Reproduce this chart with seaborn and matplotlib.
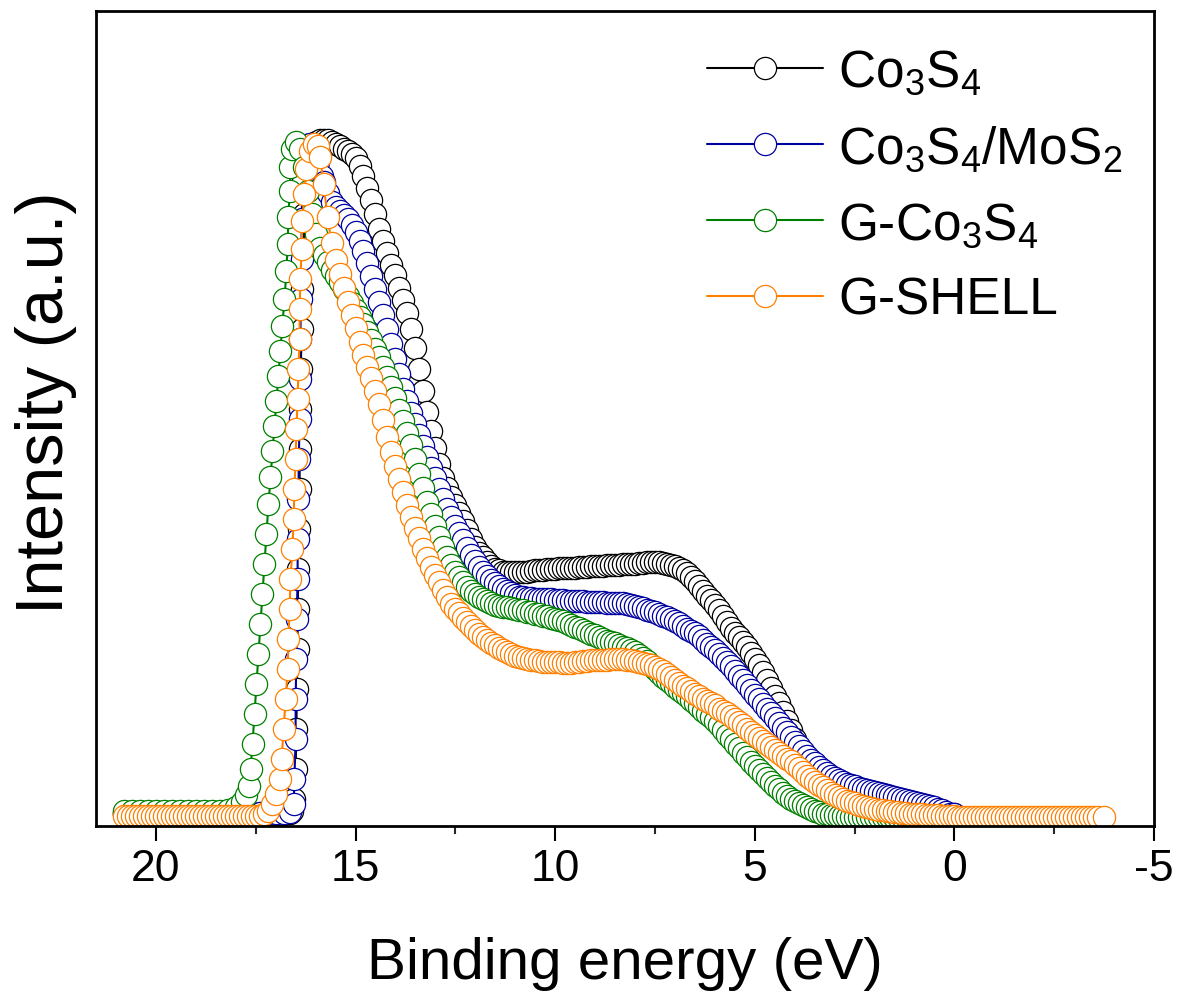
import matplotlib
matplotlib.use("Agg")
import matplotlib.pyplot as plt
from matplotlib.ticker import MultipleLocator
import pandas as pd
import seaborn as sns

sns.set_theme(style="ticks")
plt.rcParams["font.family"] = ["Liberation Sans", "DejaVu Sans"]
plt.rcParams["mathtext.fontset"] = "custom"
plt.rcParams["mathtext.rm"] = "Liberation Sans"
plt.rcParams["mathtext.it"] = "Liberation Sans:italic"
plt.rcParams["mathtext.bf"] = "Liberation Sans:bold"
plt.rcParams["axes.unicode_minus"] = False

# ---------------- data (binding energy in eV, normalised intensity) ----------------
labels = ["Co$_3$S$_4$", "Co$_3$S$_4$/MoS$_2$", "G-Co$_3$S$_4$", "G-SHELL"]
colors = ["#000000", "#0000A0", "#008000", "#FF8000"]

base_energy = [20.8, 20.6, 20.4, 20.2, 20.0, 19.8, 19.6, 19.4, 19.2, 19.0, 18.8,
               18.6, 18.4, 18.2, 18.0, 17.8, 17.6, 17.4, 17.2, 17.0, 16.8]

grid_energy = [15.8, 15.7, 15.6, 15.5, 15.4, 15.3, 15.2, 15.1, 15.0, 14.9,
               14.8, 14.7, 14.6, 14.5, 14.4, 14.3, 14.2, 14.1, 14.0, 13.9,
               13.8, 13.7, 13.6, 13.5, 13.4, 13.3, 13.2, 13.1, 13.0, 12.9,
               12.8, 12.7, 12.6, 12.5, 12.4, 12.3, 12.2, 12.1, 12.0, 11.9,
               11.8, 11.7, 11.6, 11.5, 11.4, 11.3, 11.2, 11.1, 11.0, 10.9,
               10.8, 10.7, 10.6, 10.5, 10.4, 10.3, 10.2, 10.1, 10.0, 9.9,
               9.8, 9.7, 9.6, 9.5, 9.4, 9.3, 9.2, 9.1, 9.0, 8.9,
               8.8, 8.7, 8.6, 8.5, 8.4, 8.3, 8.2, 8.1, 8.0, 7.9,
               7.8, 7.7, 7.6, 7.5, 7.4, 7.3, 7.2, 7.1, 7.0, 6.9,
               6.8, 6.7, 6.6, 6.5, 6.4, 6.3, 6.2, 6.1, 6.0, 5.9,
               5.8, 5.7, 5.6, 5.5, 5.4, 5.3, 5.2, 5.1, 5.0, 4.9,
               4.8, 4.7, 4.6, 4.5, 4.4, 4.3, 4.2, 4.1, 4.0, 3.9,
               3.8, 3.7, 3.6, 3.5, 3.4, 3.3, 3.2, 3.1, 3.0, 2.9,
               2.8, 2.7, 2.6, 2.5, 2.4, 2.3, 2.2, 2.1, 2.0, 1.9,
               1.8, 1.7, 1.6, 1.5, 1.4, 1.3, 1.2, 1.1, 1.0, 0.9,
               0.8, 0.7, 0.6, 0.5, 0.4, 0.3, 0.2, 0.1, 0.0]

# Co3S4
co3s4_base = [0.004, 0.004, 0.004, 0.004, 0.004, 0.004, 0.004, 0.004, 0.004, 0.004, 0.004,
              0.004, 0.004, 0.004, 0.004, 0.004, 0.004, 0.004, 0.004, 0.004, 0.004]
co3s4_edge_energy = [16.65, 16.58, 16.53, 16.5, 16.48, 16.47, 16.45, 16.45, 16.43, 16.42,
                     16.4, 16.4, 16.38, 16.37, 16.35, 16.33, 16.3, 16.28, 16.23, 16.18,
                     16.1, 16.0, 15.9]
co3s4_edge = [0.006, 0.009, 0.027, 0.071, 0.130, 0.189, 0.248, 0.307, 0.366, 0.425,
              0.484, 0.543, 0.602, 0.661, 0.720, 0.779, 0.838, 0.889, 0.934, 0.971,
              0.988, 0.996, 0.998]
co3s4_grid = [0.999, 0.998, 0.996, 0.993, 0.990, 0.986, 0.982, 0.978, 0.972, 0.960,
              0.945, 0.928, 0.910, 0.889, 0.867, 0.849, 0.832, 0.815, 0.799, 0.781,
              0.763, 0.743, 0.720, 0.692, 0.661, 0.628, 0.597, 0.569, 0.544, 0.521,
              0.500, 0.485, 0.472, 0.460, 0.448, 0.436, 0.423, 0.410, 0.398, 0.390,
              0.383, 0.376, 0.370, 0.366, 0.364, 0.362, 0.361, 0.361, 0.361, 0.361,
              0.361, 0.362, 0.363, 0.364, 0.364, 0.365, 0.366, 0.366, 0.366, 0.367,
              0.367, 0.367, 0.367, 0.368, 0.369, 0.369, 0.369, 0.370, 0.370, 0.370,
              0.370, 0.371, 0.372, 0.372, 0.372, 0.373, 0.373, 0.373, 0.373, 0.374,
              0.375, 0.376, 0.376, 0.376, 0.376, 0.375, 0.373, 0.372, 0.370, 0.367,
              0.364, 0.360, 0.354, 0.348, 0.341, 0.334, 0.326, 0.320, 0.313, 0.305,
              0.296, 0.288, 0.279, 0.272, 0.265, 0.258, 0.251, 0.242, 0.233, 0.224,
              0.214, 0.202, 0.190, 0.179, 0.168, 0.155, 0.142, 0.128, 0.115, 0.102,
              0.090, 0.079, 0.069, 0.062, 0.055, 0.049, 0.043, 0.039, 0.035, 0.032,
              0.029, 0.028, 0.027, 0.025, 0.024, 0.022, 0.021, 0.019, 0.018, 0.016,
              0.015, 0.014, 0.013, 0.012, 0.012, 0.011, 0.010, 0.009, 0.009, 0.008,
              0.007, 0.006, 0.006, 0.006, 0.006, 0.005, 0.004, 0.004, 0.004]

# Co3S4/MoS2
mos2_base = [0.006, 0.006, 0.006, 0.006, 0.006, 0.006, 0.006, 0.006, 0.006, 0.006, 0.006,
             0.006, 0.006, 0.006, 0.006, 0.006, 0.006, 0.006, 0.006, 0.006, 0.006]
mos2_edge_energy = [16.65, 16.55, 16.53, 16.5, 16.5, 16.48, 16.47, 16.45, 16.45, 16.43,
                    16.42, 16.4, 16.4, 16.38, 16.37, 16.35, 16.35, 16.33, 16.3, 16.25,
                    16.15, 16.05, 15.95, 15.85]
mos2_edge = [0.007, 0.019, 0.056, 0.115, 0.174, 0.233, 0.292, 0.351, 0.410, 0.469,
             0.528, 0.587, 0.646, 0.705, 0.764, 0.823, 0.882, 0.934, 0.971, 0.991,
             0.993, 0.982, 0.966, 0.945]
mos2_grid = [0.937, 0.921, 0.907, 0.900, 0.894, 0.888, 0.882, 0.873, 0.863, 0.850,
             0.835, 0.817, 0.798, 0.779, 0.760, 0.740, 0.720, 0.698, 0.676, 0.653,
             0.631, 0.613, 0.596, 0.579, 0.563, 0.547, 0.531, 0.515, 0.500, 0.484,
             0.469, 0.455, 0.442, 0.430, 0.419, 0.408, 0.397, 0.387, 0.378, 0.369,
             0.361, 0.355, 0.350, 0.345, 0.341, 0.337, 0.333, 0.330, 0.327, 0.325,
             0.324, 0.323, 0.323, 0.322, 0.322, 0.322, 0.322, 0.321, 0.320, 0.320,
             0.320, 0.319, 0.319, 0.319, 0.319, 0.318, 0.317, 0.317, 0.317, 0.317,
             0.317, 0.316, 0.316, 0.316, 0.316, 0.315, 0.314, 0.312, 0.311, 0.310,
             0.308, 0.306, 0.304, 0.302, 0.299, 0.297, 0.295, 0.292, 0.289, 0.286,
             0.282, 0.278, 0.274, 0.271, 0.267, 0.261, 0.255, 0.251, 0.246, 0.241,
             0.235, 0.229, 0.223, 0.216, 0.208, 0.202, 0.195, 0.188, 0.180, 0.174,
             0.167, 0.160, 0.153, 0.146, 0.139, 0.132, 0.125, 0.118, 0.111, 0.104,
             0.097, 0.090, 0.084, 0.079, 0.074, 0.069, 0.065, 0.061, 0.058, 0.055,
             0.052, 0.049, 0.047, 0.045, 0.043, 0.041, 0.040, 0.038, 0.037, 0.035,
             0.034, 0.032, 0.031, 0.029, 0.028, 0.026, 0.025, 0.023, 0.022, 0.020,
             0.019, 0.017, 0.016, 0.014, 0.012, 0.010, 0.007, 0.005, 0.004]

# G-Co3S4
gco_base_energy = [20.8, 20.6, 20.4, 20.2, 20.0, 19.8, 19.6, 19.4, 19.2, 19.0, 18.8,
                   18.6, 18.4]
gco_base = [0.009, 0.009, 0.009, 0.009, 0.009, 0.009, 0.009, 0.009, 0.009, 0.009, 0.009,
            0.009, 0.009]
gco_edge_energy = [18.2, 18.0, 17.85, 17.75, 17.68, 17.63, 17.58, 17.53, 17.48, 17.43,
                   17.38, 17.33, 17.28, 17.23, 17.18, 17.13, 17.08, 17.03, 16.98, 16.93,
                   16.88, 16.83, 16.78, 16.73, 16.7, 16.68, 16.65, 16.63, 16.58, 16.5,
                   16.4, 16.3, 16.2, 16.1, 16.0, 15.9]
gco_edge = [0.011, 0.015, 0.022, 0.032, 0.045, 0.071, 0.108, 0.152, 0.196, 0.240,
            0.285, 0.329, 0.373, 0.417, 0.462, 0.501, 0.540, 0.577, 0.614, 0.650,
            0.687, 0.724, 0.764, 0.805, 0.845, 0.885, 0.923, 0.959, 0.985, 0.996,
            0.985, 0.959, 0.923, 0.889, 0.860, 0.840]
gco_grid = [0.829, 0.818, 0.807, 0.798, 0.789, 0.779, 0.768, 0.758, 0.748, 0.738,
            0.727, 0.716, 0.704, 0.691, 0.678, 0.664, 0.649, 0.634, 0.618, 0.601,
            0.584, 0.567, 0.549, 0.528, 0.506, 0.485, 0.465, 0.447, 0.429, 0.413,
            0.398, 0.384, 0.372, 0.362, 0.354, 0.346, 0.339, 0.334, 0.329, 0.325,
            0.322, 0.319, 0.316, 0.313, 0.311, 0.310, 0.310, 0.308, 0.307, 0.306,
            0.305, 0.303, 0.302, 0.300, 0.299, 0.297, 0.296, 0.294, 0.292, 0.290,
            0.289, 0.286, 0.283, 0.281, 0.279, 0.276, 0.273, 0.270, 0.268, 0.265,
            0.263, 0.260, 0.258, 0.256, 0.254, 0.251, 0.249, 0.246, 0.243, 0.239,
            0.235, 0.230, 0.224, 0.218, 0.212, 0.207, 0.202, 0.197, 0.192, 0.187,
            0.183, 0.178, 0.173, 0.168, 0.162, 0.157, 0.152, 0.147, 0.142, 0.135,
            0.128, 0.121, 0.115, 0.108, 0.102, 0.095, 0.088, 0.081, 0.075, 0.069,
            0.063, 0.057, 0.052, 0.046, 0.041, 0.036, 0.031, 0.027, 0.024, 0.021,
            0.018, 0.015, 0.012, 0.009, 0.007, 0.005, 0.004, 0.003, 0.003, 0.002,
            0.001, 0.000, 0.000, 0.000, 0.000, 0.000, 0.000, 0.000, 0.000, 0.000,
            0.000, 0.000, 0.000, 0.000, 0.000, 0.000, 0.000, 0.000, 0.000, 0.000,
            0.000, 0.000, 0.000, 0.000, 0.000, 0.000, 0.000, 0.000, 0.000]

# G-SHELL
shell_base_energy = [20.8, 20.7, 20.6, 20.5, 20.4, 20.3, 20.2, 20.1, 20.0, 19.9,
                     19.8, 19.7, 19.6, 19.5, 19.4, 19.3, 19.2, 19.1, 19.0, 18.9,
                     18.8, 18.7, 18.6, 18.5, 18.4, 18.3, 18.2, 18.1, 18.0, 17.9,
                     17.8, 17.7, 17.6, 17.5, 17.4]
shell_base = [0.002, 0.002, 0.002, 0.002, 0.002, 0.002, 0.002, 0.002, 0.002, 0.002,
              0.002, 0.002, 0.002, 0.002, 0.002, 0.002, 0.002, 0.002, 0.002, 0.002,
              0.002, 0.002, 0.002, 0.002, 0.002, 0.002, 0.002, 0.002, 0.002, 0.002,
              0.002, 0.002, 0.002, 0.002, 0.002]
shell_edge_energy = [17.3, 17.2, 17.08, 16.98, 16.9, 16.85, 16.8, 16.75, 16.7, 16.68,
                     16.65, 16.63, 16.58, 16.55, 16.53, 16.5, 16.48, 16.45, 16.43, 16.4,
                     16.4, 16.38, 16.35, 16.33, 16.28, 16.23, 16.15, 16.05, 15.95, 15.88]
shell_edge = [0.004, 0.009, 0.019, 0.034, 0.056, 0.086, 0.130, 0.174, 0.218, 0.263,
              0.307, 0.351, 0.395, 0.440, 0.484, 0.528, 0.572, 0.617, 0.661, 0.705,
              0.749, 0.794, 0.838, 0.879, 0.919, 0.956, 0.982, 0.993, 0.990, 0.973]
shell_grid = [0.934, 0.885, 0.847, 0.822, 0.801, 0.780, 0.760, 0.740, 0.721, 0.701,
              0.681, 0.664, 0.647, 0.629, 0.609, 0.585, 0.560, 0.539, 0.518, 0.498,
              0.479, 0.460, 0.442, 0.426, 0.411, 0.396, 0.382, 0.369, 0.357, 0.346,
              0.335, 0.324, 0.314, 0.307, 0.301, 0.294, 0.288, 0.282, 0.276, 0.270,
              0.265, 0.261, 0.257, 0.253, 0.249, 0.246, 0.243, 0.240, 0.237, 0.236,
              0.235, 0.233, 0.232, 0.231, 0.230, 0.229, 0.229, 0.229, 0.229, 0.228,
              0.227, 0.227, 0.227, 0.228, 0.229, 0.230, 0.230, 0.231, 0.232, 0.232,
              0.232, 0.232, 0.233, 0.233, 0.233, 0.233, 0.232, 0.231, 0.230, 0.229,
              0.227, 0.226, 0.224, 0.221, 0.218, 0.215, 0.211, 0.207, 0.202, 0.197,
              0.193, 0.190, 0.186, 0.182, 0.178, 0.174, 0.171, 0.168, 0.165, 0.160,
              0.156, 0.153, 0.149, 0.145, 0.140, 0.135, 0.130, 0.126, 0.121, 0.117,
              0.112, 0.108, 0.103, 0.099, 0.094, 0.090, 0.086, 0.082, 0.077, 0.072,
              0.066, 0.061, 0.056, 0.052, 0.047, 0.044, 0.040, 0.036, 0.032, 0.029,
              0.027, 0.024, 0.022, 0.020, 0.018, 0.016, 0.015, 0.013, 0.012, 0.011,
              0.010, 0.009, 0.009, 0.008, 0.007, 0.006, 0.006, 0.005, 0.004, 0.004,
              0.004, 0.003, 0.003, 0.003, 0.003, 0.002, 0.001, 0.001, 0.001]
shell_tail_energy = [-0.1, -0.2, -0.3, -0.4, -0.5, -0.6, -0.7, -0.8, -0.9, -1.0,
                     -1.1, -1.2, -1.3, -1.4, -1.5, -1.6, -1.7, -1.8, -1.9, -2.0,
                     -2.1, -2.2, -2.3, -2.4, -2.5, -2.6, -2.7, -2.8, -2.9, -3.0,
                     -3.1, -3.2, -3.3, -3.4, -3.5, -3.6, -3.75]
shell_tail = [0.0, 0.0, 0.0, 0.0, 0.0, 0.0, 0.0, 0.0, 0.0, 0.0,
              0.0, 0.0, 0.0, 0.0, 0.0, 0.0, 0.0, 0.0, 0.0, 0.0,
              0.0, 0.0, 0.0, 0.0, 0.0, 0.0, 0.0, 0.0, 0.0, 0.0,
              0.0, 0.0, 0.0, 0.0, 0.0, 0.0, 0.0]

series = [
    (base_energy + co3s4_edge_energy + grid_energy, co3s4_base + co3s4_edge + co3s4_grid),
    (base_energy + mos2_edge_energy + grid_energy, mos2_base + mos2_edge + mos2_grid),
    (gco_base_energy + gco_edge_energy + grid_energy, gco_base + gco_edge + gco_grid),
    (shell_base_energy + shell_edge_energy + grid_energy + shell_tail_energy,
     shell_base + shell_edge + shell_grid + shell_tail),
]

# ---------------- figure ----------------
W, H = 1180, 1003
fig = plt.figure(figsize=(W / 100, H / 100), dpi=100)
ax = fig.add_axes([96 / W, 1 - 827 / H, (1154 - 96) / W, (827 - 12) / H])

for (xs, ys), lab, col in zip(series, labels, colors):
    assert len(xs) == len(ys), (lab, len(xs), len(ys))
    df = pd.DataFrame({"energy": xs, "intensity": ys})
    sns.lineplot(data=df, x="energy", y="intensity", ax=ax, sort=False, estimator=None,
                 color=col, linewidth=1.5, marker="o", markersize=16,
                 markerfacecolor="white", markeredgecolor=col, markeredgewidth=0.9,
                 label=lab)

ax.set_xlim(21.5, -5)
ax.set_ylim(-0.0133, 1.189)
ax.xaxis.set_major_locator(MultipleLocator(5))
ax.xaxis.set_minor_locator(MultipleLocator(2.5))
ax.set_yticks([])
ax.tick_params(axis="x", which="major", direction="out", length=11, width=1.5,
               labelsize=32, pad=5, colors="black", top=False)
ax.tick_params(axis="x", which="minor", direction="out", length=6, width=1.5, top=False)
for s in ax.spines.values():
    s.set_visible(True)
    s.set_linewidth(2)
    s.set_color("black")
ax.grid(False)

ax.set_xlabel("Binding energy (eV)", fontsize=42, labelpad=34, color="black")
ax.set_ylabel("Intensity (a.u.)", fontsize=48, labelpad=14, color="black")
ax.yaxis.label.set_y(0.521)

leg = ax.legend(loc="upper left", bbox_to_anchor=(0.5775, 0.9546), frameon=False,
                fontsize=37, handlelength=2.26, handletextpad=0.29, labelspacing=0.52,
                borderaxespad=0, borderpad=0, numpoints=1)
for t in leg.get_texts():
    t.set_color("black")

fig.savefig("out.png", dpi=100, facecolor="white")
